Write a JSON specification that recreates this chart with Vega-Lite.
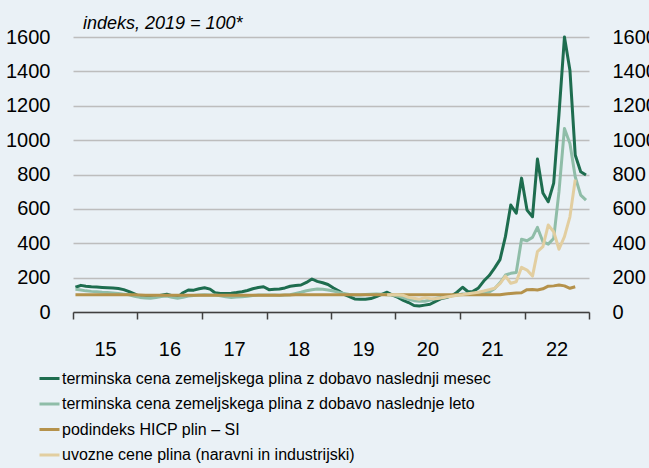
{
"$schema":"https://vega.github.io/schema/vega-lite/v6.json",
"width":516,"height":275,
"autosize":{"type":"none"},
"padding":{"left":73,"top":37,"right":60,"bottom":156},
"background":"#eaf1f6",
"title":{"text":"indeks, 2019 = 100*","anchor":"start","frame":"group","dx":10,"offset":0,"dy":6,"font":"Liberation Sans","fontSize":18,"fontStyle":"italic","fontWeight":"normal","color":"#000000"},
"config":{"view":{"stroke":null},"font":"Liberation Sans"},
"datasets":{"gas":[
{"d":"2015-01-15","s":"a","v":144},{"d":"2015-02-15","s":"a","v":155},{"d":"2015-03-15","s":"a","v":150},{"d":"2015-04-15","s":"a","v":147},{"d":"2015-05-15","s":"a","v":145},{"d":"2015-06-15","s":"a","v":143},{"d":"2015-07-15","s":"a","v":141},{"d":"2015-08-15","s":"a","v":139},{"d":"2015-09-15","s":"a","v":137},{"d":"2015-10-15","s":"a","v":130},{"d":"2015-11-15","s":"a","v":118},{"d":"2015-12-15","s":"a","v":105},
{"d":"2016-01-15","s":"a","v":90},{"d":"2016-02-15","s":"a","v":87},{"d":"2016-03-15","s":"a","v":89},{"d":"2016-04-15","s":"a","v":92},{"d":"2016-05-15","s":"a","v":98},{"d":"2016-06-15","s":"a","v":103},{"d":"2016-07-15","s":"a","v":95},{"d":"2016-08-15","s":"a","v":85},{"d":"2016-09-15","s":"a","v":112},{"d":"2016-10-15","s":"a","v":128},{"d":"2016-11-15","s":"a","v":127},{"d":"2016-12-15","s":"a","v":135},
{"d":"2017-01-15","s":"a","v":141},{"d":"2017-02-15","s":"a","v":133},{"d":"2017-03-15","s":"a","v":112},{"d":"2017-04-15","s":"a","v":108},{"d":"2017-05-15","s":"a","v":108},{"d":"2017-06-15","s":"a","v":109},{"d":"2017-07-15","s":"a","v":113},{"d":"2017-08-15","s":"a","v":118},{"d":"2017-09-15","s":"a","v":125},{"d":"2017-10-15","s":"a","v":135},{"d":"2017-11-15","s":"a","v":143},{"d":"2017-12-15","s":"a","v":147},
{"d":"2018-01-15","s":"a","v":130},{"d":"2018-02-15","s":"a","v":132},{"d":"2018-03-15","s":"a","v":134},{"d":"2018-04-15","s":"a","v":140},{"d":"2018-05-15","s":"a","v":150},{"d":"2018-06-15","s":"a","v":154},{"d":"2018-07-15","s":"a","v":157},{"d":"2018-08-15","s":"a","v":172},{"d":"2018-09-15","s":"a","v":192},{"d":"2018-10-15","s":"a","v":178},{"d":"2018-11-15","s":"a","v":170},{"d":"2018-12-15","s":"a","v":160},
{"d":"2019-01-15","s":"a","v":140},{"d":"2019-02-15","s":"a","v":122},{"d":"2019-03-15","s":"a","v":103},{"d":"2019-04-15","s":"a","v":90},{"d":"2019-05-15","s":"a","v":76},{"d":"2019-06-15","s":"a","v":74},{"d":"2019-07-15","s":"a","v":74},{"d":"2019-08-15","s":"a","v":78},{"d":"2019-09-15","s":"a","v":89},{"d":"2019-10-15","s":"a","v":102},{"d":"2019-11-15","s":"a","v":115},{"d":"2019-12-15","s":"a","v":98},
{"d":"2020-01-15","s":"a","v":85},{"d":"2020-02-15","s":"a","v":68},{"d":"2020-03-15","s":"a","v":55},{"d":"2020-04-15","s":"a","v":38},{"d":"2020-05-15","s":"a","v":35},{"d":"2020-06-15","s":"a","v":40},{"d":"2020-07-15","s":"a","v":45},{"d":"2020-08-15","s":"a","v":62},{"d":"2020-09-15","s":"a","v":78},{"d":"2020-10-15","s":"a","v":84},{"d":"2020-11-15","s":"a","v":95},{"d":"2020-12-15","s":"a","v":115},
{"d":"2021-01-15","s":"a","v":144},{"d":"2021-02-15","s":"a","v":118},{"d":"2021-03-15","s":"a","v":120},{"d":"2021-04-15","s":"a","v":140},{"d":"2021-05-15","s":"a","v":180},{"d":"2021-06-15","s":"a","v":212},{"d":"2021-07-15","s":"a","v":255},{"d":"2021-08-15","s":"a","v":305},{"d":"2021-09-15","s":"a","v":440},{"d":"2021-10-15","s":"a","v":622},{"d":"2021-11-15","s":"a","v":575},{"d":"2021-12-15","s":"a","v":779},
{"d":"2022-01-15","s":"a","v":593},{"d":"2022-02-15","s":"a","v":554},{"d":"2022-03-15","s":"a","v":890},{"d":"2022-04-15","s":"a","v":692},{"d":"2022-05-15","s":"a","v":641},{"d":"2022-06-15","s":"a","v":750},{"d":"2022-07-15","s":"a","v":1150},{"d":"2022-08-15","s":"a","v":1600},{"d":"2022-09-15","s":"a","v":1407},{"d":"2022-10-15","s":"a","v":913},{"d":"2022-11-15","s":"a","v":816},{"d":"2022-12-15","s":"a","v":797},
{"d":"2015-01-15","s":"b","v":132},{"d":"2015-02-15","s":"b","v":128},{"d":"2015-03-15","s":"b","v":123},{"d":"2015-04-15","s":"b","v":120},{"d":"2015-05-15","s":"b","v":118},{"d":"2015-06-15","s":"b","v":115},{"d":"2015-07-15","s":"b","v":113},{"d":"2015-08-15","s":"b","v":111},{"d":"2015-09-15","s":"b","v":108},{"d":"2015-10-15","s":"b","v":104},{"d":"2015-11-15","s":"b","v":100},{"d":"2015-12-15","s":"b","v":92},
{"d":"2016-01-15","s":"b","v":85},{"d":"2016-02-15","s":"b","v":82},{"d":"2016-03-15","s":"b","v":80},{"d":"2016-04-15","s":"b","v":84},{"d":"2016-05-15","s":"b","v":90},{"d":"2016-06-15","s":"b","v":93},{"d":"2016-07-15","s":"b","v":85},{"d":"2016-08-15","s":"b","v":80},{"d":"2016-09-15","s":"b","v":86},{"d":"2016-10-15","s":"b","v":93},{"d":"2016-11-15","s":"b","v":96},{"d":"2016-12-15","s":"b","v":99},
{"d":"2017-01-15","s":"b","v":100},{"d":"2017-02-15","s":"b","v":99},{"d":"2017-03-15","s":"b","v":99},{"d":"2017-04-15","s":"b","v":95},{"d":"2017-05-15","s":"b","v":88},{"d":"2017-06-15","s":"b","v":85},{"d":"2017-07-15","s":"b","v":87},{"d":"2017-08-15","s":"b","v":89},{"d":"2017-09-15","s":"b","v":92},{"d":"2017-10-15","s":"b","v":96},{"d":"2017-11-15","s":"b","v":99},{"d":"2017-12-15","s":"b","v":99},
{"d":"2018-01-15","s":"b","v":99},{"d":"2018-02-15","s":"b","v":99},{"d":"2018-03-15","s":"b","v":98},{"d":"2018-04-15","s":"b","v":99},{"d":"2018-05-15","s":"b","v":100},{"d":"2018-06-15","s":"b","v":108},{"d":"2018-07-15","s":"b","v":115},{"d":"2018-08-15","s":"b","v":124},{"d":"2018-09-15","s":"b","v":130},{"d":"2018-10-15","s":"b","v":134},{"d":"2018-11-15","s":"b","v":132},{"d":"2018-12-15","s":"b","v":128},
{"d":"2019-01-15","s":"b","v":122},{"d":"2019-02-15","s":"b","v":114},{"d":"2019-03-15","s":"b","v":108},{"d":"2019-04-15","s":"b","v":102},{"d":"2019-05-15","s":"b","v":99},{"d":"2019-06-15","s":"b","v":99},{"d":"2019-07-15","s":"b","v":102},{"d":"2019-08-15","s":"b","v":104},{"d":"2019-09-15","s":"b","v":105},{"d":"2019-10-15","s":"b","v":103},{"d":"2019-11-15","s":"b","v":100},{"d":"2019-12-15","s":"b","v":99},
{"d":"2020-01-15","s":"b","v":92},{"d":"2020-02-15","s":"b","v":82},{"d":"2020-03-15","s":"b","v":74},{"d":"2020-04-15","s":"b","v":66},{"d":"2020-05-15","s":"b","v":62},{"d":"2020-06-15","s":"b","v":63},{"d":"2020-07-15","s":"b","v":70},{"d":"2020-08-15","s":"b","v":78},{"d":"2020-09-15","s":"b","v":84},{"d":"2020-10-15","s":"b","v":88},{"d":"2020-11-15","s":"b","v":94},{"d":"2020-12-15","s":"b","v":98},
{"d":"2021-01-15","s":"b","v":105},{"d":"2021-02-15","s":"b","v":105},{"d":"2021-03-15","s":"b","v":106},{"d":"2021-04-15","s":"b","v":108},{"d":"2021-05-15","s":"b","v":112},{"d":"2021-06-15","s":"b","v":116},{"d":"2021-07-15","s":"b","v":135},{"d":"2021-08-15","s":"b","v":170},{"d":"2021-09-15","s":"b","v":215},{"d":"2021-10-15","s":"b","v":225},{"d":"2021-11-15","s":"b","v":230},{"d":"2021-12-15","s":"b","v":423},
{"d":"2022-01-15","s":"b","v":415},{"d":"2022-02-15","s":"b","v":434},{"d":"2022-03-15","s":"b","v":492},{"d":"2022-04-15","s":"b","v":409},{"d":"2022-05-15","s":"b","v":395},{"d":"2022-06-15","s":"b","v":428},{"d":"2022-07-15","s":"b","v":700},{"d":"2022-08-15","s":"b","v":1068},{"d":"2022-09-15","s":"b","v":981},{"d":"2022-10-15","s":"b","v":787},{"d":"2022-11-15","s":"b","v":680},{"d":"2022-12-15","s":"b","v":651},
{"d":"2015-01-15","s":"c","v":100},{"d":"2015-02-15","s":"c","v":100},{"d":"2015-03-15","s":"c","v":100},{"d":"2015-04-15","s":"c","v":100},{"d":"2015-05-15","s":"c","v":100},{"d":"2015-06-15","s":"c","v":100},{"d":"2015-07-15","s":"c","v":100},{"d":"2015-08-15","s":"c","v":100},{"d":"2015-09-15","s":"c","v":100},{"d":"2015-10-15","s":"c","v":100},{"d":"2015-11-15","s":"c","v":100},{"d":"2015-12-15","s":"c","v":100},
{"d":"2016-01-15","s":"c","v":99},{"d":"2016-02-15","s":"c","v":98},{"d":"2016-03-15","s":"c","v":97},{"d":"2016-04-15","s":"c","v":97},{"d":"2016-05-15","s":"c","v":97},{"d":"2016-06-15","s":"c","v":97},{"d":"2016-07-15","s":"c","v":97},{"d":"2016-08-15","s":"c","v":97},{"d":"2016-09-15","s":"c","v":97},{"d":"2016-10-15","s":"c","v":97},{"d":"2016-11-15","s":"c","v":97},{"d":"2016-12-15","s":"c","v":97},
{"d":"2017-01-15","s":"c","v":97},{"d":"2017-02-15","s":"c","v":97},{"d":"2017-03-15","s":"c","v":97},{"d":"2017-04-15","s":"c","v":97},{"d":"2017-05-15","s":"c","v":97},{"d":"2017-06-15","s":"c","v":97},{"d":"2017-07-15","s":"c","v":97},{"d":"2017-08-15","s":"c","v":97},{"d":"2017-09-15","s":"c","v":98},{"d":"2017-10-15","s":"c","v":98},{"d":"2017-11-15","s":"c","v":98},{"d":"2017-12-15","s":"c","v":98},
{"d":"2018-01-15","s":"c","v":98},{"d":"2018-02-15","s":"c","v":98},{"d":"2018-03-15","s":"c","v":98},{"d":"2018-04-15","s":"c","v":99},{"d":"2018-05-15","s":"c","v":99},{"d":"2018-06-15","s":"c","v":100},{"d":"2018-07-15","s":"c","v":100},{"d":"2018-08-15","s":"c","v":100},{"d":"2018-09-15","s":"c","v":100},{"d":"2018-10-15","s":"c","v":100},{"d":"2018-11-15","s":"c","v":100},{"d":"2018-12-15","s":"c","v":100},
{"d":"2019-01-15","s":"c","v":100},{"d":"2019-02-15","s":"c","v":100},{"d":"2019-03-15","s":"c","v":100},{"d":"2019-04-15","s":"c","v":100},{"d":"2019-05-15","s":"c","v":100},{"d":"2019-06-15","s":"c","v":100},{"d":"2019-07-15","s":"c","v":100},{"d":"2019-08-15","s":"c","v":100},{"d":"2019-09-15","s":"c","v":100},{"d":"2019-10-15","s":"c","v":100},{"d":"2019-11-15","s":"c","v":100},{"d":"2019-12-15","s":"c","v":100},
{"d":"2020-01-15","s":"c","v":100},{"d":"2020-02-15","s":"c","v":100},{"d":"2020-03-15","s":"c","v":100},{"d":"2020-04-15","s":"c","v":100},{"d":"2020-05-15","s":"c","v":100},{"d":"2020-06-15","s":"c","v":100},{"d":"2020-07-15","s":"c","v":100},{"d":"2020-08-15","s":"c","v":100},{"d":"2020-09-15","s":"c","v":100},{"d":"2020-10-15","s":"c","v":100},{"d":"2020-11-15","s":"c","v":100},{"d":"2020-12-15","s":"c","v":100},
{"d":"2021-01-15","s":"c","v":100},{"d":"2021-02-15","s":"c","v":100},{"d":"2021-03-15","s":"c","v":100},{"d":"2021-04-15","s":"c","v":100},{"d":"2021-05-15","s":"c","v":100},{"d":"2021-06-15","s":"c","v":100},{"d":"2021-07-15","s":"c","v":100},{"d":"2021-08-15","s":"c","v":100},{"d":"2021-09-15","s":"c","v":105},{"d":"2021-10-15","s":"c","v":108},{"d":"2021-11-15","s":"c","v":110},{"d":"2021-12-15","s":"c","v":112},
{"d":"2022-01-15","s":"c","v":130},{"d":"2022-02-15","s":"c","v":131},{"d":"2022-03-15","s":"c","v":128},{"d":"2022-04-15","s":"c","v":135},{"d":"2022-05-15","s":"c","v":150},{"d":"2022-06-15","s":"c","v":152},{"d":"2022-07-15","s":"c","v":157},{"d":"2022-08-15","s":"c","v":152},{"d":"2022-09-15","s":"c","v":138},{"d":"2022-10-15","s":"c","v":147},
{"d":"2019-11-15","s":"e","v":100},{"d":"2019-12-15","s":"e","v":100},
{"d":"2020-01-15","s":"e","v":100},{"d":"2020-02-15","s":"e","v":97},{"d":"2020-03-15","s":"e","v":85},{"d":"2020-04-15","s":"e","v":80},{"d":"2020-05-15","s":"e","v":74},{"d":"2020-06-15","s":"e","v":84},{"d":"2020-07-15","s":"e","v":78},{"d":"2020-08-15","s":"e","v":77},{"d":"2020-09-15","s":"e","v":81},{"d":"2020-10-15","s":"e","v":87},{"d":"2020-11-15","s":"e","v":92},{"d":"2020-12-15","s":"e","v":97},
{"d":"2021-01-15","s":"e","v":101},{"d":"2021-02-15","s":"e","v":106},{"d":"2021-03-15","s":"e","v":110},{"d":"2021-04-15","s":"e","v":115},{"d":"2021-05-15","s":"e","v":122},{"d":"2021-06-15","s":"e","v":130},{"d":"2021-07-15","s":"e","v":138},{"d":"2021-08-15","s":"e","v":165},{"d":"2021-09-15","s":"e","v":209},{"d":"2021-10-15","s":"e","v":167},{"d":"2021-11-15","s":"e","v":176},{"d":"2021-12-15","s":"e","v":260},
{"d":"2022-01-15","s":"e","v":244},{"d":"2022-02-15","s":"e","v":209},{"d":"2022-03-15","s":"e","v":351},{"d":"2022-04-15","s":"e","v":380},{"d":"2022-05-15","s":"e","v":506},{"d":"2022-06-15","s":"e","v":467},{"d":"2022-07-15","s":"e","v":365},{"d":"2022-08-15","s":"e","v":438},{"d":"2022-09-15","s":"e","v":554},{"d":"2022-10-15","s":"e","v":770}
]},
"data":{"name":"gas"},
"layer":[
{"mark":{"type":"line","strokeWidth":3,"strokeJoin":"round"},
"encoding":{
"x":{"field":"d","type":"temporal","title":null,
"scale":{"type":"utc","domain":["2015-01-01","2023-01-01"]},
"axis":{"values":[{"year":2015,"month":1,"date":1,"utc":true},{"year":2016,"month":1,"date":1,"utc":true},{"year":2017,"month":1,"date":1,"utc":true},{"year":2018,"month":1,"date":1,"utc":true},{"year":2019,"month":1,"date":1,"utc":true},{"year":2020,"month":1,"date":1,"utc":true},{"year":2021,"month":1,"date":1,"utc":true},{"year":2022,"month":1,"date":1,"utc":true},{"year":2023,"month":1,"date":1,"utc":true}],
"labelExpr":"utcyear(datum.value) >= 2023 ? '' : utcFormat(datum.value, '%y')",
"labelOffset":32,"labelAlign":"center","labelFontSize":20,"labelColor":"#000000","labelPadding":20,
"grid":false,"domainColor":"#404040","domainWidth":1.5,"tickColor":"#404040","tickWidth":1.5,"tickSize":7,"labelFlush":false,"labelOverlap":false}},
"y":{"field":"v","type":"quantitative","title":null,
"scale":{"domain":[0,1600],"nice":false,"zero":true},
"axis":{"values":[0,200,400,600,800,1000,1200,1400,1600],"format":"d","labelFontSize":20,"labelColor":"#000000","labelPadding":23,"ticks":false,"domain":false,"grid":true,"gridColor":"#bdbdbd","gridWidth":1.5}},
"color":{"field":"s","type":"nominal",
"scale":{"domain":["a","b","c","e"],"range":["#1e6d4f","#8fbda8","#b5924b","#e2cea0"]},
"legend":{"title":null,"orient":"none","legendX":-35,"legendY":330,"symbolType":"stroke","symbolSize":400,"symbolStrokeWidth":3,"labelFontSize":16,"labelColor":"#000000","labelOffset":1,"rowPadding":5.5,"padding":0,"labelLimit":600,
"labelExpr":"datum.label == 'a' ? 'terminska cena zemeljskega plina z dobavo naslednji mesec' : datum.label == 'b' ? 'terminska cena zemeljskega plina z dobavo naslednje leto' : datum.label == 'c' ? 'podindeks HICP plin – SI' : 'uvozne cene plina (naravni in industrijski)'"}}
}},
{"mark":{"type":"line","strokeOpacity":0},
"encoding":{
"x":{"field":"d","type":"temporal"},
"y":{"field":"v","type":"quantitative","axis":{"orient":"right","title":null,"values":[0,200,400,600,800,1000,1200,1400,1600],"format":"d","labelFontSize":20,"labelColor":"#000000","labelPadding":23,"ticks":false,"domain":false,"grid":false}},
"detail":{"field":"s"}
}}
],
"resolve":{"scale":{"y":"shared"},"axis":{"y":"independent"}}
}
